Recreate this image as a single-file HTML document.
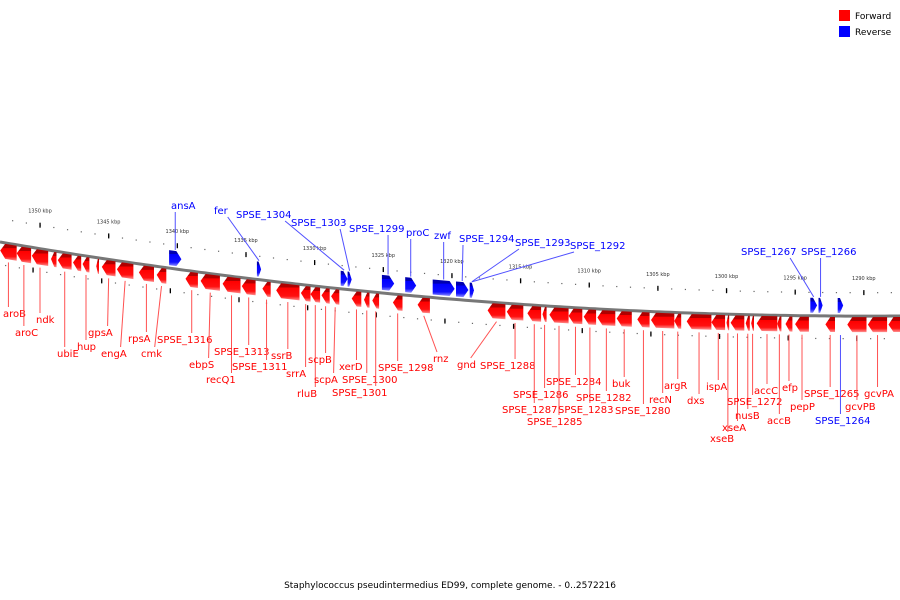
<!DOCTYPE html>
<html><head><meta charset="utf-8"><style>
html,body{margin:0;padding:0;background:#fff;}
svg{display:block;font-family:"DejaVu Sans","Liberation Sans",sans-serif;}
</style></head><body>
<svg id="chart" width="900" height="600" viewBox="0 0 900 600" xmlns="http://www.w3.org/2000/svg">
<defs>
<linearGradient id="gRed" x1="0" y1="0" x2="0" y2="1"><stop offset="0" stop-color="#b00000"/><stop offset="0.25" stop-color="#b00000"/><stop offset="0.26" stop-color="#ff0000"/><stop offset="0.75" stop-color="#ff1010"/><stop offset="1" stop-color="#ff9090"/></linearGradient>
<linearGradient id="gBlue" x1="0" y1="0" x2="0" y2="1"><stop offset="0" stop-color="#0000b0"/><stop offset="0.25" stop-color="#0000b0"/><stop offset="0.26" stop-color="#0000ff"/><stop offset="0.75" stop-color="#1010ff"/><stop offset="1" stop-color="#9090ff"/></linearGradient>
</defs>
<g id="layer-back"></g>
<g id="layer-genes"></g>
<g id="legend">
<rect x="839" y="10" width="11" height="11" fill="#ff0000"/>
<text x="855" y="19" font-size="9" fill="#000">Forward</text>
<rect x="839" y="26" width="11" height="11" fill="#0000ff"/>
<text x="855" y="35" font-size="9" fill="#000">Reverse</text>
</g>
<text x="450" y="588" text-anchor="middle" font-size="9" fill="#000">Staphylococcus pseudintermedius ED99, complete genome. - 0..2572216</text>
</svg>
<script>
// Data (kbp positions)
const fwdNames = ["aroB","aroC","ndk","","ubiE","","hup","","gpsA","engA","rpsA","cmk","SPSE_1316","ebpS","recQ1","SPSE_1313","SPSE_1311","ssrB","srrA","rluB","scpB","scpA","xerD","SPSE_1300","SPSE_1301","SPSE_1298","rnz","gnd","SPSE_1288","SPSE_1287","SPSE_1286","SPSE_1285","SPSE_1284","SPSE_1283","SPSE_1282","buk","SPSE_1280","recN","argR","dxs","ispA","xseB","xseA","nusB","SPSE_1272","accC","accB","efp","pepP","SPSE_1265","gcvPB","gcvPA",""];
const fwdStart = [1352.9,1351.7,1350.6,1349.2,1348.7,1347.6,1346.9,1345.9,1345.5,1344.4,1342.8,1341.5,1339.4,1338.3,1336.7,1335.3,1333.8,1332.8,1331.0,1330.3,1329.5,1328.8,1327.3,1326.4,1325.8,1324.3,1322.5,1317.4,1316.0,1314.5,1313.4,1312.9,1311.5,1310.4,1309.4,1308.0,1306.5,1305.5,1303.8,1302.9,1301.1,1300.0,1299.7,1298.6,1298.2,1297.8,1296.3,1295.7,1295.0,1292.8,1291.2,1289.7,1288.2];
const fwdEnd   = [1351.7,1350.65,1349.4,1348.8,1347.7,1347.0,1346.4,1345.7,1344.5,1343.2,1341.7,1340.8,1338.5,1336.9,1335.4,1334.3,1333.2,1331.1,1330.3,1329.6,1328.9,1328.2,1326.6,1326.0,1325.3,1323.6,1321.6,1316.1,1314.8,1313.5,1313.1,1311.5,1310.5,1309.5,1308.1,1306.9,1305.6,1303.8,1303.3,1301.1,1300.1,1299.8,1298.7,1298.3,1298.0,1296.3,1296.0,1295.2,1294.0,1292.1,1289.8,1288.3,1287.3];
const revNames = ["ansA","fer","SPSE_1304","SPSE_1303","SPSE_1299","proC","zwf","SPSE_1294","SPSE_1293","SPSE_1292","SPSE_1267","SPSE_1266","SPSE_1264"];
const revStart = [1340.6,1334.2,1328.1,1327.6,1325.1,1323.4,1321.4,1319.7,1318.7,1318.65,1293.9,1293.3,1291.9];
const revEnd   = [1339.7,1333.9,1327.6,1327.3,1324.2,1322.6,1319.8,1318.8,1318.4,1318.4,1293.4,1293.0,1291.5];
const tickKbp = [1350,1345,1340,1335,1330,1325,1320,1315,1310,1305,1300,1295,1290];
// label placements (layout)
const fwdLabelPos = [[3,317],[15,336],[36,323],null,[57,357],null,[77,350],null,[88,336],[101,357],[128,342],[141,357],[157,343],[189,368],[206,383],[214,355],[232,370],[271,359],[286,377],[297,397],[308,363],[314,383],[339,370],[342,383],[332,396],[378,371],[433,362],[457,368],[480,369],[502,413],[513,398],[527,425],[546,385],[558,413],[576,401],[612,387],[615,414],[649,403],[664,389],[687,404],[706,390],[710,442],[722,431],[735,419],[727,405],[754,394],[767,424],[782,391],[790,410],[804,397],[845,410],[864,397],null];
const revLabelPos = [[171,209],[214,214],[236,218],[291,226],[349,232],[406,236],[434,239],[459,242],[515,246],[570,249],[741,255],[801,255],[815,424]];

const NS="http://www.w3.org/2000/svg";
const xOf = k => 40 + (1350 - k) * 13.73;
const yc = x => 242 + 0.1711*x - 0.00009877*x*x;
const back = document.getElementById('layer-back');
const gl = document.getElementById('layer-genes');
function mk(tag, attrs, parent){const e=document.createElementNS(NS,tag);for(const k in attrs)e.setAttribute(k,attrs[k]);parent.appendChild(e);return e;}
const tw = s => s.length*5.9;

// backbone
let d="M0 "+yc(0).toFixed(1);
for(let x=5;x<=900;x+=5) d+=" L"+x+" "+yc(x).toFixed(1);
const bb = mk('path',{d:d,stroke:'#777',"stroke-width":3,fill:'none'},back);



// scale dots and ticks
for(let k=1353;k>=1287;k--){
  const x=xOf(k); if(x<0||x>900) continue;
  const y=yc(x);
  const dot=mk('rect',{x:x-0.5,y:y-24,width:1.2,height:1.2,fill:'#666'},back);
  
  
  const x2=x-7; const dot2=mk('rect',{x:x2-0.5,y:yc(x2)+22,width:1.2,height:1.2,fill:'#666'},back);
  
  
}
tickKbp.forEach(k=>{
  const x=xOf(k), y=yc(x);
  const t=mk('rect',{x:x-0.6,y:y-26,width:1.3,height:5,fill:'#000'},back);
  
  
  const x2=x-7; const t2=mk('rect',{x:x2-0.6,y:yc(x2)+20,width:1.3,height:5,fill:'#000'},back);
  
  
  const lb=mk('text',{x:x,y:y-36,"font-size":5,"text-anchor":"middle",fill:'#333'},back);
  lb.textContent=k+" kbp";
  
  
});

function gene(a,b,fwd,name,lp){
  let x1=Math.max(-5,xOf(a)), x2=Math.min(905,xOf(b));
  const len=x2-x1, head=Math.min(5,len*0.6);
  let pts;
  if(fwd){
    const t1=yc(x1)+1, t2=yc(x2)+1, th=yc(x1+head)+1;
    pts=[[x1,t1+7.5],[x1+head,th],[x2,t2],[x2,t2+15],[x1+head,th+15]];
  } else {
    const b1=yc(x1)-3, b2=yc(x2)-3, bh=yc(x2-head)-3;
    pts=[[x1,b1-15],[x2-head,bh-15],[x2,b2-7.5],[x2-head,bh],[x1,b1]];
  }
  const p=mk('polygon',{points:pts.map(q=>q[0].toFixed(1)+","+q[1].toFixed(1)).join(" "),fill:fwd?'url(#gRed)':'url(#gBlue)'},gl);
  
  
  if(name && lp){
    const cx=(x1+x2)/2, col=fwd?'#ff0000':'#0000ff';
    const w=tw(name);
    let ex=Math.min(Math.max(cx,lp[0]+4),lp[0]+w-4);
    let ln;
    if(fwd || name==="SPSE_1264"){
      ln=mk('line',{x1:cx,y1:yc(cx)+19,x2:ex,y2:lp[1]-10,stroke:fwd?'#ff5050':'#5050ff',"stroke-width":1},gl);
    } else {
      ln=mk('line',{x1:cx,y1:yc(cx)-19,x2:ex,y2:lp[1]+3,stroke:'#5050ff',"stroke-width":1},gl);
    }
    
    
    const t=mk('text',{x:lp[0],y:lp[1],"font-size":10,fill:col},gl);
    t.textContent=name;
    
    
  }
}
fwdNames.forEach((n,i)=>gene(fwdStart[i],fwdEnd[i],true,n,fwdLabelPos[i]));
revNames.forEach((n,i)=>gene(revStart[i],revEnd[i],false,n,revLabelPos[i]));
</script>
</body></html>
